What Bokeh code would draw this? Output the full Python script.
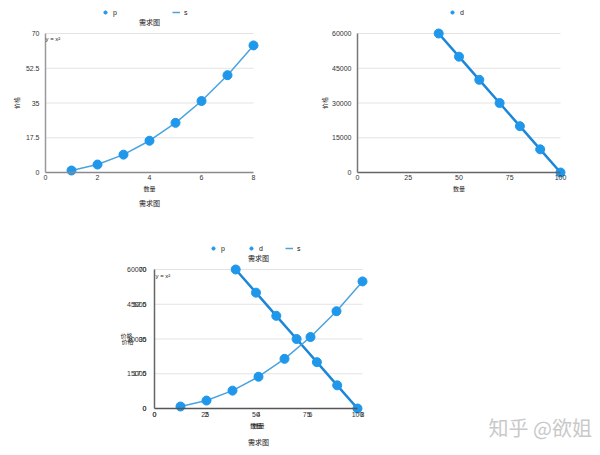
from bokeh.plotting import figure
from bokeh.models import (Range1d, FixedTicker, Legend, LegendItem, Label,
                          LinearAxis)
from bokeh.embed import file_html
from bokeh.resources import INLINE

# ---------------- data ----------------
p_x = [1, 2, 3, 4, 5, 6, 7, 8]
p_y = [1, 4, 9, 16, 25, 36, 49, 64]
s_x = [1, 2, 3, 4, 5, 6, 7, 8]
s_y = [1, 4, 9, 16, 25, 36, 49, 64]
d_x = [40, 50, 60, 70, 80, 90, 100]
d_y = [60000, 50000, 40000, 30000, 20000, 10000, 0]

ps_xticks = [0, 2, 4, 6, 8]
ps_xlabels = ["0", "2", "4", "6", "8"]
ps_yticks = [0, 17.5, 35, 52.5, 70]
ps_ylabels = ["0", "17.5", "35", "52.5", "70"]
d_xticks = [0, 25, 50, 75, 100]
d_xlabels = ["0", "25", "50", "75", "100"]
d_yticks = [0, 15000, 30000, 45000, 60000]
d_ylabels = ["0", "15000", "30000", "45000", "60000"]

title_text = "需求图"
x_label = "数量"
y_label = "价格"
eq_text = "y = x²"
watermark = "知乎 @欲姐"

# ---------------- style ----------------
W, H = 592, 447
PT = "#1f97ea"
S_COL = "#4aa3de"
D_COL = "#1c86d8"
GRID = "#e3e3e3"
LATIN = "Liberation Sans"
CJK = "Noto Sans CJK SC"


def xr(px0, px1, v0, v1):
    """range whose v0..v1 fall on canvas pixels px0..px1 (from the left)"""
    k = (v1 - v0) / (px1 - px0)
    return Range1d(v0 - px0 * k, v0 + (W - px0) * k)


def yr(py0, py1, v0, v1):
    """range whose v0 (bottom) / v1 (top) fall on pixels py0 / py1 (from top)"""
    k = (v1 - v0) / (py0 - py1)
    return Range1d(v0 - (H - py0) * k, v0 + py0 * k)


f = figure(width=W, height=H, x_range=Range1d(0, W), y_range=Range1d(0, H),
           x_axis_type=None, y_axis_type=None, output_backend="svg",
           toolbar_location=None, min_border=0, min_border_left=0,
           min_border_right=0, min_border_top=0, min_border_bottom=0,
           outline_line_color=None, background_fill_color="white",
           border_fill_color="white")
f.title.visible = False

f.extra_x_ranges = {
    "c1x": xr(45, 253, 0, 8),
    "c2x": xr(357, 560, 0, 100),
    "c3px": xr(154, 362, 0, 8),
    "c3dx": xr(154, 357, 0, 100),
}
f.extra_y_ranges = {
    "c1y": yr(172, 33, 0, 70),
    "c2y": yr(172, 33, 0, 60000),
    "c3py": yr(408, 269, 0, 70),
    "c3dy": yr(408, 269, 0, 60000),
}


def add_axis(side, xn, yn, ticks, labels, standoff, line_color, label,
             label_standoff, horizontal=False):
    ax = LinearAxis(x_range_name=xn, y_range_name=yn, fixed_location=0,
                    bounds=(ticks[0], ticks[-1]))
    ax.ticker = FixedTicker(ticks=ticks)
    ax.major_label_overrides = {t: l for t, l in zip(ticks, labels)}
    ax.major_tick_out = 0
    ax.major_tick_in = 0
    ax.minor_tick_out = 0
    ax.minor_tick_in = 0
    ax.major_tick_line_color = None
    ax.minor_tick_line_color = None
    ax.major_label_standoff = standoff
    ax.major_label_text_font = LATIN
    ax.major_label_text_font_size = "7px"
    ax.major_label_text_color = "#333333"
    ax.axis_line_color = line_color
    ax.axis_line_width = 1.5
    if label:
        ax.axis_label = label
    ax.axis_label_text_font = CJK
    ax.axis_label_text_font_size = "6px"
    ax.axis_label_text_font_style = "normal"
    ax.axis_label_text_color = "#222222"
    ax.axis_label_standoff = label_standoff
    if horizontal:
        ax.axis_label_orientation = "horizontal"
    f.add_layout(ax, side)
    return ax


def gridlines(xn, yn, xmax, yticks):
    n = len(yticks) - 1
    f.segment(x0=[0] * n, x1=[xmax] * n, y0=yticks[1:], y1=yticks[1:],
              line_color=GRID, line_width=1, x_range_name=xn,
              y_range_name=yn)


def text(xn, yn, x, y, t, size, font, dy=0, dx=0, align="center",
         baseline="middle", color="#222222"):
    f.add_layout(Label(x=x, y=y, x_range_name=xn, y_range_name=yn, text=t,
                       x_offset=dx, y_offset=dy, text_align=align,
                       text_baseline=baseline, text_font=font,
                       text_font_size=size, text_color=color))


def legend(items, spacing, vx, vy):
    f.add_layout(Legend(items=items, orientation="horizontal",
                        location=(vx, vy), border_line_color=None,
                        background_fill_alpha=0, padding=0, margin=0,
                        spacing=spacing, glyph_width=8, glyph_height=8,
                        label_standoff=4, label_width=4, label_height=8,
                        label_text_font=LATIN, label_text_font_size="7px",
                        label_text_color="#222222"))


# ---------------- chart 1: p / s ----------------
gridlines("c1x", "c1y", 8, ps_yticks)
add_axis("below", "c1x", "c1y", ps_xticks, ps_xlabels, 2, "#8a8a8a",
         x_label, 1)
add_axis("left", "c1x", "c1y", ps_yticks, ps_ylabels, 6, "#9a9a9a",
         y_label, 2)
r1_s = f.line(s_x, s_y, line_color=S_COL, line_width=1.5,
              x_range_name="c1x", y_range_name="c1y")
r1_p = f.scatter(p_x, p_y, marker="circle", size=9, fill_color=PT,
                 line_color=PT, x_range_name="c1x", y_range_name="c1y")
text("c1x", "c1y", 0, 70, eq_text, "6px", LATIN, dy=-2, dx=0,
     align="left", baseline="top")
text("c1x", "c1y", 4, 70, title_text, "7px", CJK, dy=12)
text("c1x", "c1y", 4, 0, title_text, "7px", CJK, dy=-30)
legend([LegendItem(label="p", renderers=[r1_p]),
        LegendItem(label="s", renderers=[r1_s])], 55, 101, H - 16)

# ---------------- chart 2: d ----------------
gridlines("c2x", "c2y", 100, d_yticks)
add_axis("below", "c2x", "c2y", d_xticks, d_xlabels, 2, "#666666",
         x_label, 1)
add_axis("left", "c2x", "c2y", d_yticks, d_ylabels, 6, "#777777",
         y_label, 0)
f.line(d_x, d_y, line_color=D_COL, line_width=2.5,
       x_range_name="c2x", y_range_name="c2y")
r2_d = f.scatter(d_x, d_y, marker="circle", size=9, fill_color=PT,
                 line_color=PT, x_range_name="c2x", y_range_name="c2y")
legend([LegendItem(label="d", renderers=[r2_d])], 20, 448, H - 16)

# ---------------- chart 3: both overlaid ----------------
gridlines("c3px", "c3py", 8, ps_yticks)
add_axis("below", "c3dx", "c3dy", d_xticks, d_xlabels, 3, "#555555",
         x_label, 1)
add_axis("left", "c3dx", "c3dy", d_yticks, d_ylabels, 8, "#666666",
         None, 0)
add_axis("below", "c3px", "c3py", ps_xticks, ps_xlabels, 3, None,
         x_label, 1)
add_axis("left", "c3px", "c3py", ps_yticks, ps_ylabels, 8, None,
         None, 0)
# the two overlapping y-axis titles of the combined chart
text("c3dx", "c3dy", 0, 30000, y_label, "6px", CJK, dx=-22, dy=4,
     align="right")
text("c3px", "c3py", 0, 35, y_label, "6px", CJK, dx=-21, dy=-2,
     align="right")
f.line(d_x, d_y, line_color=D_COL, line_width=2.5,
       x_range_name="c3dx", y_range_name="c3dy")
r3_s = f.line(s_x, s_y, line_color=S_COL, line_width=1.5,
              x_range_name="c3px", y_range_name="c3py")
r3_d = f.scatter(d_x, d_y, marker="circle", size=9, fill_color=PT,
                 line_color=PT, x_range_name="c3dx", y_range_name="c3dy")
r3_p = f.scatter(p_x, p_y, marker="circle", size=9, fill_color=PT,
                 line_color=PT, x_range_name="c3px", y_range_name="c3py")
text("c3px", "c3py", 0, 70, eq_text, "6px", LATIN, dy=-3, dx=1,
     align="left", baseline="top")
text("c3px", "c3py", 4, 70, title_text, "7px", CJK, dy=12)
text("c3px", "c3py", 4, 0, title_text, "7px", CJK, dy=-33)
legend([LegendItem(label="p", renderers=[r3_p]),
        LegendItem(label="d", renderers=[r3_d]),
        LegendItem(label="s", renderers=[r3_s])], 22, 209, H - 252)

# ---------------- watermark ----------------
f.add_layout(Label(x=488, y=H - 427, x_units="screen", y_units="screen",
                   text=watermark, text_align="left",
                   text_baseline="middle", text_font=CJK,
                   text_font_size="20px", text_color="#c9c9c9"))

with open("out.html", "w") as fh:
    fh.write(file_html(f, INLINE))
